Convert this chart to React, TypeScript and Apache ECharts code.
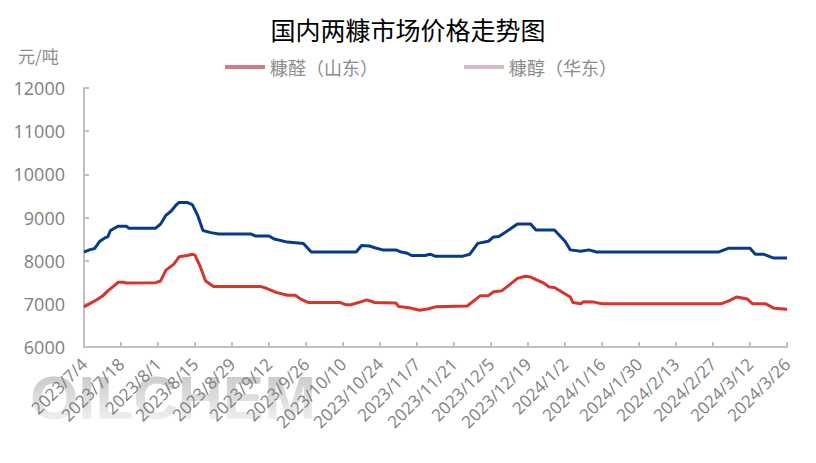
import React, { useEffect, useRef } from "react";
import * as echarts from "echarts";

const TITLE = "国内两糠市场价格走势图";
const UNIT = "元/吨";
const SERIES_NAMES = ["糠醛（山东）", "糠醇（华东）"];

// 糠醛（山东）
const furfuralDates = [
  "2023/7/4", "2023/7/6", "2023/7/9", "2023/7/11", "2023/7/13", "2023/7/15", "2023/7/17", "2023/7/19",
  "2023/7/20", "2023/7/31", "2023/8/2", "2023/8/4", "2023/8/7", "2023/8/9", "2023/8/12", "2023/8/14",
  "2023/8/15", "2023/8/17", "2023/8/19", "2023/8/22", "2023/9/9", "2023/9/11", "2023/9/15", "2023/9/19",
  "2023/9/22", "2023/9/24", "2023/9/27", "2023/10/9", "2023/10/11", "2023/10/13", "2023/10/17", "2023/10/19",
  "2023/10/22", "2023/10/30", "2023/10/31", "2023/11/4", "2023/11/8", "2023/11/11", "2023/11/14", "2023/11/26",
  "2023/12/1", "2023/12/4", "2023/12/6", "2023/12/9", "2023/12/12", "2023/12/15", "2023/12/18", "2023/12/20",
  "2023/12/25", "2023/12/27", "2023/12/29", "2024/1/4", "2024/1/5", "2024/1/8", "2024/1/9", "2024/1/13",
  "2024/1/16", "2024/3/1", "2024/3/4", "2024/3/7", "2024/3/11", "2024/3/13", "2024/3/18", "2024/3/21",
  "2024/3/25", "2024/3/26",
];
const furfuralPrices = [
  6930, 7000, 7100, 7180, 7300, 7400, 7500, 7500,
  7480, 7490, 7530, 7780, 7920, 8090, 8120, 8150,
  8130, 7860, 7530, 7400, 7400, 7360, 7260, 7200,
  7200, 7110, 7030, 7030, 6980, 6980, 7050, 7090,
  7030, 7020, 6940, 6910, 6850, 6880, 6930, 6950,
  7190, 7190, 7280, 7300, 7440, 7590, 7640, 7620,
  7480, 7390, 7380, 7160, 7030, 7000, 7050, 7040,
  7000, 7000, 7070, 7160, 7110, 7000, 7000, 6900,
  6880, 6870,
];

// 糠醇（华东）
const alcoholDates = [
  "2023/7/4", "2023/7/6", "2023/7/8", "2023/7/10", "2023/7/12", "2023/7/13", "2023/7/14", "2023/7/17",
  "2023/7/20", "2023/7/21", "2023/7/31", "2023/8/2", "2023/8/4", "2023/8/6", "2023/8/8", "2023/8/9",
  "2023/8/12", "2023/8/14", "2023/8/16", "2023/8/18", "2023/8/21", "2023/8/24", "2023/9/5", "2023/9/7",
  "2023/9/12", "2023/9/14", "2023/9/19", "2023/9/25", "2023/9/28", "2023/10/15", "2023/10/17", "2023/10/20",
  "2023/10/22", "2023/10/25", "2023/10/30", "2023/11/1", "2023/11/3", "2023/11/5", "2023/11/10", "2023/11/12",
  "2023/11/14", "2023/11/24", "2023/11/27", "2023/11/30", "2023/12/4", "2023/12/6", "2023/12/8", "2023/12/12",
  "2023/12/15", "2023/12/20", "2023/12/22", "2023/12/29", "2024/1/2", "2024/1/4", "2024/1/8", "2024/1/11",
  "2024/1/14", "2024/2/29", "2024/3/4", "2024/3/12", "2024/3/14", "2024/3/17", "2024/3/21", "2024/3/26",
];
const alcoholPrices = [
  8200, 8250, 8280, 8450, 8530, 8550, 8700, 8800,
  8800, 8750, 8750, 8850, 9050, 9150, 9300, 9350,
  9350, 9300, 9050, 8700, 8650, 8620, 8620, 8570,
  8570, 8500, 8430, 8400, 8200, 8200, 8350, 8340,
  8300, 8250, 8250, 8200, 8180, 8120, 8120, 8150,
  8100, 8100, 8150, 8400, 8450, 8550, 8560, 8720,
  8850, 8850, 8710, 8710, 8450, 8250, 8220, 8250,
  8200, 8200, 8290, 8290, 8150, 8150, 8060, 8060,
];

const START_DATE = "2023/7/4";
const END_DATE = "2024/3/26";
const TICK_DAYS = 14;
const Y_MIN = 6000;
const Y_MAX = 12000;
const Y_STEP = 1000;

const DAY = 86400000;
const toUTC = (s: string) => {
  const [y, m, d] = s.split("/").map(Number);
  return Date.UTC(y, m - 1, d);
};
const START = toUTC(START_DATE);
const dayIndex = (s: string) => Math.round((toUTC(s) - START) / DAY);
const dayLabel = (v: number) => {
  const dt = new Date(START + v * DAY);
  return `${dt.getUTCFullYear()}/${dt.getUTCMonth() + 1}/${dt.getUTCDate()}`;
};

const FONT = "'Open Sans', 'Noto Sans CJK SC', sans-serif";
const CJK = "'Noto Sans CJK SC', sans-serif";

export default function App() {
  const ref = useRef<HTMLDivElement>(null);

  useEffect(() => {
    if (!ref.current) return;
    const chart = echarts.init(ref.current, null, { renderer: "svg" });
    const furfural = furfuralDates.map((d, i) => [dayIndex(d), furfuralPrices[i]]);
    const alcohol = alcoholDates.map((d, i) => [dayIndex(d), alcoholPrices[i]]);
    chart.setOption({
      animation: false,
      backgroundColor: "#ffffff",
      textStyle: { fontFamily: FONT },
      title: {
        text: TITLE,
        left: "center",
        top: 11,
        textStyle: { fontSize: 25, fontWeight: "normal", color: "#000000", fontFamily: CJK },
      },
      legend: {
        left: 220,
        top: 53,
        itemGap: 86,
        itemWidth: 40,
        itemHeight: 4,
        icon: "rect",
        textStyle: { fontSize: 18, color: "#8c8c8c", fontFamily: CJK },
        data: [
          { name: SERIES_NAMES[0], itemStyle: { color: "#d27b86" } },
          { name: SERIES_NAMES[1], itemStyle: { color: "#d6bcc0" } },
        ],
      },
      graphic: [
        {
          type: "text",
          left: 30,
          top: 366,
          z: -10,
          silent: true,
          style: {
            text: "OILCHEM",
            font: "bold 62px 'Liberation Sans', Arial, sans-serif",
            fill: "#c0c0c0",
          },
        },
        {
          type: "rect",
          left: 26,
          top: 362,
          z: -5,
          silent: true,
          shape: { width: 296, height: 70 },
          style: {
            fill: new echarts.graphic.LinearGradient(0, 0, 0, 1, [
              { offset: 0, color: "rgba(255,255,255,0)" },
              { offset: 1, color: "rgba(255,255,255,0.9)" },
            ]),
          },
        },
        {
          type: "text",
          left: 18,
          top: 47,
          style: { text: UNIT, font: `17px ${CJK}`, fill: "#8c8c8c" },
        },
      ],
      grid: { left: 84, right: 29, top: 88, bottom: 116, containLabel: false },
      xAxis: {
        type: "value",
        min: 0,
        max: dayIndex(END_DATE),
        interval: TICK_DAYS,
        splitLine: { show: false },
        axisLine: { show: true, lineStyle: { color: "#bfbfbf", width: 2 } },
        axisTick: { show: true, inside: true, length: 5, lineStyle: { color: "#bfbfbf", width: 2 } },
        axisLabel: {
          rotate: 45,
          fontSize: 17,
          color: "#808080",
          margin: 14,
          formatter: (v: number) => dayLabel(v),
        },
      },
      yAxis: {
        type: "value",
        min: Y_MIN,
        max: Y_MAX,
        interval: Y_STEP,
        splitLine: { show: false },
        axisLine: { show: true, lineStyle: { color: "#bfbfbf", width: 2 } },
        axisTick: { show: true, inside: true, length: 5, lineStyle: { color: "#bfbfbf", width: 2 } },
        axisLabel: { fontSize: 18, color: "#808080", margin: 19, formatter: (v: number) => String(v) },
      },
      series: [
        {
          name: SERIES_NAMES[0],
          type: "line",
          data: furfural,
          showSymbol: false,
          symbol: "none",
          itemStyle: { color: "#d27b86" },
          lineStyle: { color: "#d9342b", width: 3 },
          z: 3,
        },
        {
          name: SERIES_NAMES[1],
          type: "line",
          data: alcohol,
          showSymbol: false,
          symbol: "none",
          itemStyle: { color: "#d6bcc0" },
          lineStyle: { color: "#063b8a", width: 3 },
          z: 3,
        },
      ],
    });
    return () => chart.dispose();
  }, []);

  return (
    <div
      ref={ref}
      style={{ position: "fixed", left: 0, top: 0, width: 816, height: 463, background: "#fff" }}
    />
  );
}
